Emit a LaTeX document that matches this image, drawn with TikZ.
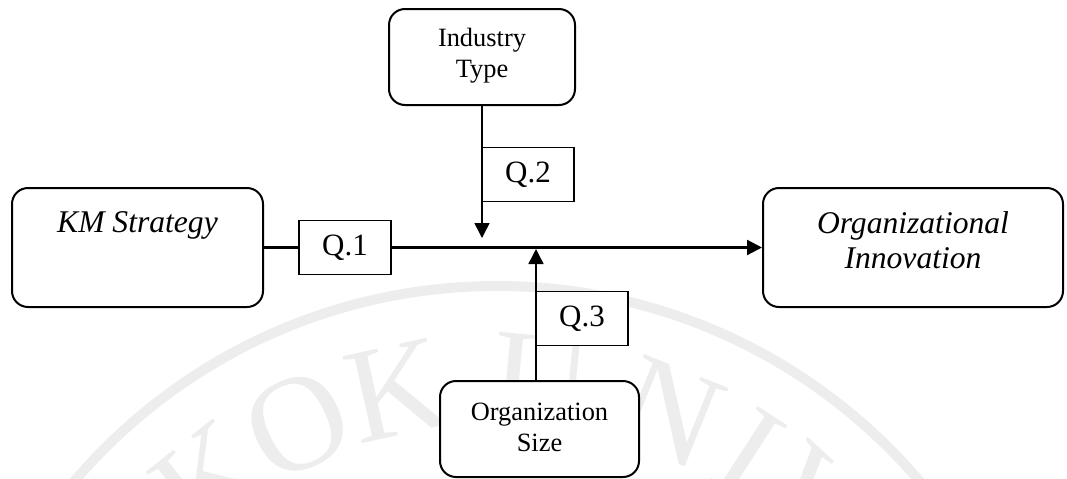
\documentclass[tikz,border=0pt]{standalone}
\usepackage{fontspec}
\setmainfont{Liberation Serif}
\usetikzlibrary{arrows.meta}
\definecolor{wm}{HTML}{EDEDED}
\tikzset{
  rbox/.style={draw, line width=1pt, rounded corners=8pt, inner sep=0pt, fill=white},
  qbox/.style={draw, line width=0.9pt, inner sep=0pt, minimum width=46pt, minimum height=27pt,
               fill=white, font=\fontsize{15.5}{17}\selectfont},
  bigtxt/.style={font=\fontsize{15.8}{17.5}\selectfont\itshape, align=center, inner sep=0pt},
  smalltxt/.style={font=\fontsize{13.2}{15.5}\selectfont, align=center, inner sep=0pt},
  conn/.style={line width=0.75pt},
  mainconn/.style={line width=1.1pt},
  tip/.style={-{Triangle[length=7.5pt,width=7.5pt]}},
  wmletter/.style={text=wm, font=\fontsize{68}{68}\selectfont, inner sep=0pt}
}
\begin{document}
\begin{tikzpicture}[x=0.5pt,y=-0.5pt]
\useasboundingbox (0,0) rectangle (1067,478);
% watermark
\begin{scope}
\clip (0,0) rectangle (1067,478);
\draw[wm, line width=5pt] (497,841) circle[radius=555];
\node[wmletter, rotate=38.5] (w1) at (209.4,479.4) {K};
\node[wmletter, rotate=25.5] (w2) at (298.1,424) {O};
\node[wmletter, rotate=12.5] (w3) at (397,390) {K};
\node[wmletter, rotate=-5.5] (w4) at (541.3,381.1) {U};
\node[wmletter, rotate=-22] (w5) at (670.1,412.6) {N};
\node[wmletter, rotate=-33] (w6) at (748.6,453.5) {I};
\node[wmletter, rotate=-43] (w7) at (812.1,503.1) {V};
\end{scope}
% boxes
\node[rbox, minimum width=125.5pt, minimum height=59.5pt] (KM) at (137.5,247.5) {};
\node[bigtxt] (KMt) at (137.5,225) {KM Strategy};
\node[rbox, minimum width=150pt, minimum height=59.5pt] (OI) at (913,247.5) {};
\node[bigtxt] (OIt) at (913,240) {Organizational\\Innovation};
\node[rbox, minimum width=93pt, minimum height=48pt] (IT) at (482,57) {};
\node[smalltxt] (ITt) at (482,56) {Industry\\Type};
\node[rbox, minimum width=99.5pt, minimum height=48pt] (OS) at (539.5,429) {};
\node[smalltxt] (OSt) at (539.5,427) {Organization\\Size};
\node[qbox] (Q1) at (345,247.5) {Q.1};
\node[qbox] (Q2) at (528,174.5) {Q.2};
\node[qbox] (Q3) at (582,318.5) {Q.3};
% connectors
\coordinate (t2) at (482,238);
\coordinate (t3) at (536,249);
\draw[mainconn] (KM.east) -- (Q1.west);
\draw[mainconn, tip] (Q1.east) -- (OI.west);
\draw[conn, tip] (IT.south) -- (t2);
\draw[conn, tip] (t3 |- OS.north) -- (t3);
\end{tikzpicture}
\end{document}
